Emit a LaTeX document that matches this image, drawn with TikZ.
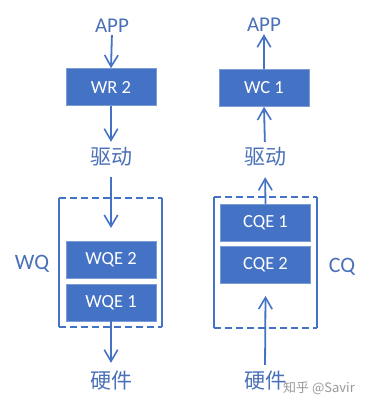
\documentclass[tikz,border=0pt]{standalone}
\usepackage{fontspec}
\setmainfont{Carlito}
\newfontfamily\cjk{Noto Sans CJK SC}
\usetikzlibrary{arrows.meta}
\definecolor{ofblue}{HTML}{4472C4}
\definecolor{lblblue}{HTML}{4A70B8}
\tikzset{
  qbox/.style={fill=ofblue, draw=ofblue!70!white, line width=0.6pt, minimum width=90pt, minimum height=37pt,
    inner sep=0pt, text=white, font=\fontsize{18.5}{18.5}\selectfont},
  lat/.style={text=lblblue, inner sep=0pt, text height=14pt, text depth=0pt, font=\fontsize{21}{21}\selectfont},
  zh/.style={text=lblblue, inner sep=0pt, text height=17pt, text depth=3pt, font=\cjk\fontsize{21}{21}\selectfont},
  arr/.style={draw=ofblue, line width=1.8pt, -{Straight Barb[length=11.5pt,width=13.5pt,line width=1.6pt]}},
  frm/.style={draw=ofblue, line width=1.3pt},
  frmd/.style={draw=ofblue, line width=1.3pt, dash pattern=on 7pt off 4pt},
}
\begin{document}
\begin{tikzpicture}[x=1pt,y=-1pt]
\useasboundingbox[fill=white] (0,0) rectangle (368,408);
% left column
\node[lat] (appL) at (112,25) {APP};
\node[qbox] (wr) at (111,87) {WR 2};
\node[zh] (drvL) at (111,157) {驱动};
\node[qbox] (wqe2) at (111,259.5) {WQE 2};
\node[qbox] (wqe1) at (111,302.5) {WQE 1};
\node[zh] (hwL) at (111,381) {硬件};
\node[lat, text height=15pt, font=\fontsize{22}{22}\selectfont] (wq) at (32,262) {WQ};
\coordinate (inL) at (111,228);
\draw[frm] (59,198) -- (59,327);
\draw[frm] (162,198) -- (162,327);
\draw[frmd] (59,198) -- (162,198);
\draw[frmd] (59,327) -- (162,327);
\draw[arr, shorten <=3pt] (appL.south) -- (wr.north);
\draw[arr, shorten >=5pt] (wr.south) -- (drvL.north);
\draw[arr, shorten <=10pt] (drvL.south) -- (inL);
\draw[arr, shorten >=8pt] (wqe1.south) -- (hwL.north);
% right column
\node[lat] (appR) at (264,24) {APP};
\node[qbox] (wc) at (264,88) {WC 1};
\node[zh] (drvR) at (265,157) {驱动};
\node[qbox] (cqe1) at (265.5,223) {CQE 1};
\node[qbox] (cqe2) at (265.5,264.5) {CQE 2};
\node[zh] (hwR) at (265,381) {硬件};
\node[lat, text height=15pt, font=\fontsize{22}{22}\selectfont] (cq) at (342,265) {CQ};
\coordinate (inR) at (265.5,296);
\draw[frm] (214,197) -- (214,328);
\draw[frm] (317,197) -- (317,328);
\draw[frmd] (214,197) -- (317,197);
\draw[frmd] (214,328) -- (317,328);
\draw[arr, shorten <=6pt] (hwR.north) -- (inR);
\draw[arr, shorten >=10pt] (cqe1.north) -- (drvR.south);
\draw[arr, shorten <=5pt] (drvR.north) -- (wc.south);
\draw[arr, shorten >=3pt] (wc.north) -- (appR.south);
% watermark
\node[text=black!40, inner sep=0pt, font=\cjk\fontsize{13}{13}\selectfont] (wm) at (319,388) {知乎 @Savir};
\end{tikzpicture}
\end{document}
